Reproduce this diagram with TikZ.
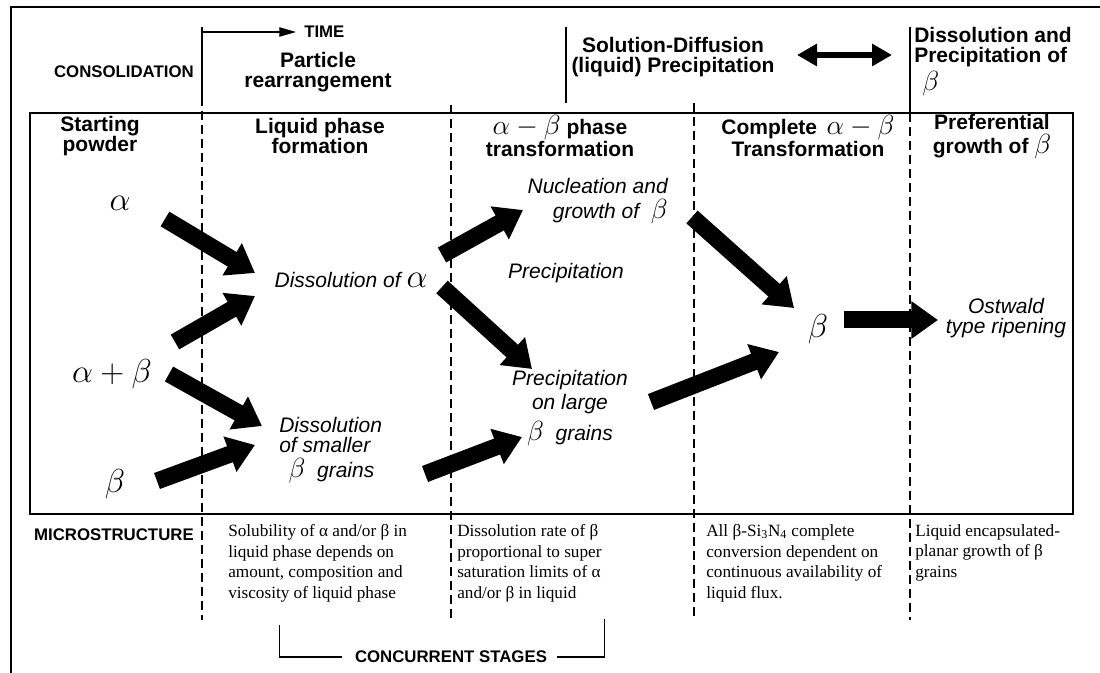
\documentclass[tikz,border=0pt]{standalone}
\usepackage{fontspec}
\setmainfont{Liberation Serif}
\setsansfont{Liberation Sans}
\usetikzlibrary{arrows.meta,positioning}

\newcommand{\gsize}[2]{{\fontsize{#1}{#1}\selectfont$#2$}}
\newcommand{\amb}{\gsize{22}{\alpha-\beta}}

\tikzset{
  hd/.style={font={\sffamily\bfseries\fontsize{15.75}{15}\selectfont}, align=center, inner sep=0pt},
  sm/.style={font={\sffamily\bfseries\fontsize{12.6}{12.6}\selectfont}, inner sep=0pt},
  lbl/.style={font={\sffamily\itshape\fontsize{15.75}{15}\selectfont}, align=center, inner sep=0pt},
  grk/.style={font={\fontsize{31}{31}\selectfont}, inner sep=0pt},
  note/.style={font={\rmfamily\fontsize{12.9}{15.5}\selectfont}, align=left, inner sep=0pt},
  divider/.style={line width=0.9pt},
  dashdiv/.style={line width=0.8pt, dash pattern=on 6.5pt off 4pt},
  blk/.style={line width=12.75pt, -{Triangle[length=20pt,width=27pt]}}
}

\begin{document}
\begin{tikzpicture}[x=0.75pt,y=0.75pt,yscale=-1,xscale=1]
\useasboundingbox (0,0) rectangle (1100,673);

%Frame and box
\draw [line width=1pt] (11,673) -- (11,7) -- (1100,7) ;
\draw [line width=1.1pt] (30,113) rectangle (1073,514) ;

%Stage dividers
\draw [divider] (202,27) -- (202,97) ;
\draw [dashdiv] (202,97) -- (202,620) ;
\draw [divider] (566,27) -- (566,103) ;
\draw [dashdiv] (451,105) -- (451,622) ;
\draw [dashdiv] (694,103) -- (694,620) ;
\draw [divider] (910,27) -- (910,113) ;
\draw [dashdiv] (910,113) -- (910,620) ;

% Text Node
\node [sm, anchor=east] (consol) at (194,72) {CONSOLIDATION};
\node [sm, anchor=west] (time) at (304,32) {TIME};
\coordinate (timeO) at (202,32);
\draw [line width=0.9pt, -{Triangle[length=12.5pt,width=7pt]}, shorten >=6pt] (timeO) -- (time.west) ;
\node [hd] (partRe) at (318,72) {Particle\\rearrangement};
\node [hd] (solDiff) at (673,57) {Solution-Diffusion\\(liquid) Precipitation};
\coordinate (dblL) at (797,55);
\coordinate (dblR) at (892,55);
\draw [line width=4.8pt, {Triangle[length=15pt,width=16pt]}-{Triangle[length=15pt,width=16pt]}] (dblL) -- (dblR) ;
\node [hd, align=left, anchor=north west] (dissPrec) at (914,27) {Dissolution and\\Precipitation of\\[2pt]\hspace{6pt}\gsize{22}{\beta}};

% Column headings
\node [hd] (startPow) at (100,136) {Starting\\powder};
\node [hd] (liqForm) at (320,136) {Liquid phase\\formation};
\node [hd] (abTrans) at (560,136) {\amb{} phase\\transformation};
\node [hd] (compTrans) at (808,136) {Complete \,\amb\\Transformation};
\node [hd] (prefGrowth) at (992,137) {Preferential\\[3pt]growth of \gsize{20}{\beta}};

% Starting phases
\node [grk] (alphaA) at (120,203) {$\alpha$};
\node [grk, font={\fontsize{24}{24}\selectfont}] (alphaBeta) at (112,374) {$\alpha+\beta$};
\node [grk] (betaA) at (115,484) {$\beta$};

% Process labels
\node [lbl] (dissAlpha) at (351,280) {Dissolution of \gsize{26}{\alpha}};
\node [lbl, align=left, anchor=north west] (dissSmall) at (279,417) {Dissolution\\of smaller\\[4pt]\hspace{7pt}\gsize{20}{\beta}\ \ grains};
\node [lbl, align=right, anchor=east] (nucGrowth) at (668,201) {Nucleation and\\[4pt]growth of\ \ \gsize{20}{\beta}};
\node [lbl] (precip) at (566,273) {Precipitation};
\node [lbl] (precLarge) at (570,408) {Precipitation\\[3pt]on large\\[5pt]\gsize{20}{\beta}\ \ grains};
\node [grk] (betaB) at (818,329) {$\beta$};
\node [lbl] (ostwald) at (1006,318) {Ostwald\\type ripening};

% Block arrows
\coordinate (a1s) at (165,219); \coordinate (a1e) at (255,273);
\coordinate (a2s) at (175,342); \coordinate (a2e) at (255,296);
\coordinate (a3s) at (169,374); \coordinate (a3e) at (262,426);
\coordinate (a4s) at (157,481); \coordinate (a4e) at (255,445);
\coordinate (a5s) at (442,255); \coordinate (a5e) at (523,210);
\coordinate (a6s) at (442,287); \coordinate (a6e) at (532,369);
\coordinate (a7s) at (425,474); \coordinate (a7e) at (522,437);
\coordinate (a8s) at (651,402); \coordinate (a8e) at (779,352);
\coordinate (a9s) at (692,217); \coordinate (a9e) at (794,308);
\coordinate (a10s) at (844,320); \coordinate (a10e) at (938,320);
\foreach \i in {1,...,10}
  \draw [blk] (a\i s) -- (a\i e) ;

% Microstructure notes
\node [sm, anchor=east] (micro) at (194,535) {MICROSTRUCTURE};
\node [note, anchor=north west] (solub) at (228,524) {Solubility of α and/or β in\\liquid phase depends on\\amount, composition and\\viscosity of liquid phase};
\node [note, anchor=north west] (rate) at (457,524) {Dissolution rate of β\\proportional to super\\saturation limits of α\\and/or β in liquid};
\node [note, anchor=north west] (conv) at (706,524) {All β-Si\textsubscript{3}N\textsubscript{4} complete\\conversion dependent on\\continuous availability of\\liquid flux.};
\node [note, anchor=north west] (encap) at (915,524) {Liquid encapsulated-\\planar growth of β\\grains};

% Concurrent stages bracket
\node [sm] (concur) at (451,657) {CONCURRENT STAGES};
\draw [line width=0.9pt] (concur.west) ++(-13,0) -- ++(-62,0) -- ++(0,-32) ;
\draw [line width=0.9pt] (concur.east) ++(10,0) -- ++(47,0) -- ++(0,-38) ;

\end{tikzpicture}
\end{document}
